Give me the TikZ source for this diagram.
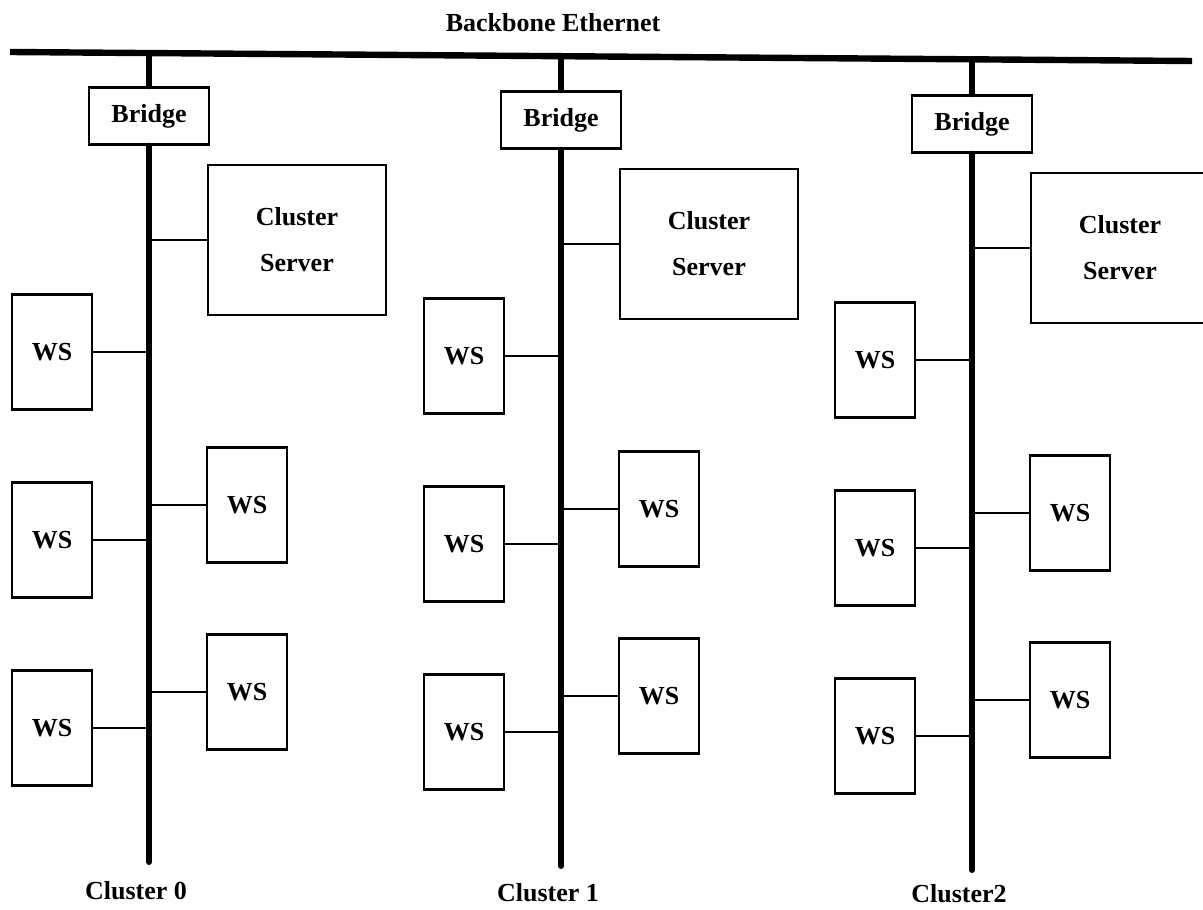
\documentclass[tikz,border=0pt]{standalone}
\usepackage{fontspec}
\setmainfont{Liberation Serif}
\usetikzlibrary{positioning}
\tikzset{
  box/.style={draw,line width=1.2pt,align=center,inner sep=2pt,font=\fontsize{13}{16}\selectfont\bfseries},
  brbox/.style={box,minimum width=60pt,minimum height=28.5pt},
  srvbox/.style={box,minimum width=89pt,minimum height=75pt},
  wsbox/.style={box,minimum width=40pt,minimum height=57.5pt},
  bus/.style={line width=3pt,line cap=round},
  link/.style={line width=1.2pt},
  lbl/.style={font=\fontsize{13}{16}\selectfont\bfseries},
}
\begin{document}
\begin{tikzpicture}[x=0.5pt,y=-0.5pt]
  \useasboundingbox (0,0) rectangle (1203,909);
  % backbone
  \coordinate (bbl) at (10,52);
  \coordinate (bbr) at (1192,61);
  \draw[line width=3.2pt] (bbl) -- (bbr);
  \node[lbl] (bbtxt) at (553,23) {Backbone Ethernet};
  % clusters
  \foreach \i/\dx/\dy/\ly/\lab in {0/0/0/891/Cluster 0,1/412/4/893/Cluster 1,2/823/8/894/Cluster2}{
    \coordinate (top\i) at (149+\dx,53+\dy);
    \coordinate (bot\i) at (149+\dx,862+\dy);
    \node[brbox] (br\i) at (149+\dx,116+\dy) {Bridge};
    \node[srvbox] (srv\i) at (297+\dx,240+\dy) {Cluster\\[7pt]Server};
    \node[wsbox] (wsl\i a) at (52+\dx,352+\dy) {WS};
    \node[wsbox] (wsl\i b) at (52+\dx,540+\dy) {WS};
    \node[wsbox] (wsl\i c) at (52+\dx,728+\dy) {WS};
    \node[wsbox] (wsr\i a) at (247+\dx,505+\dy) {WS};
    \node[wsbox] (wsr\i b) at (247+\dx,692+\dy) {WS};
    \draw[bus] (top\i) -- (br\i.north);
    \draw[bus] (br\i.south) -- (bot\i);
    \draw[link] (srv\i.west) -- (srv\i.west -| bot\i);
    \draw[link] (wsl\i a.east) -- (wsl\i a.east -| bot\i);
    \draw[link] (wsl\i b.east) -- (wsl\i b.east -| bot\i);
    \draw[link] (wsl\i c.east) -- (wsl\i c.east -| bot\i);
    \draw[link] (wsr\i a.west) -- (wsr\i a.west -| bot\i);
    \draw[link] (wsr\i b.west) -- (wsr\i b.west -| bot\i);
    \node[lbl] (cl\i) at (136+\dx,\ly) {\lab};
  }
\end{tikzpicture}
\end{document}
